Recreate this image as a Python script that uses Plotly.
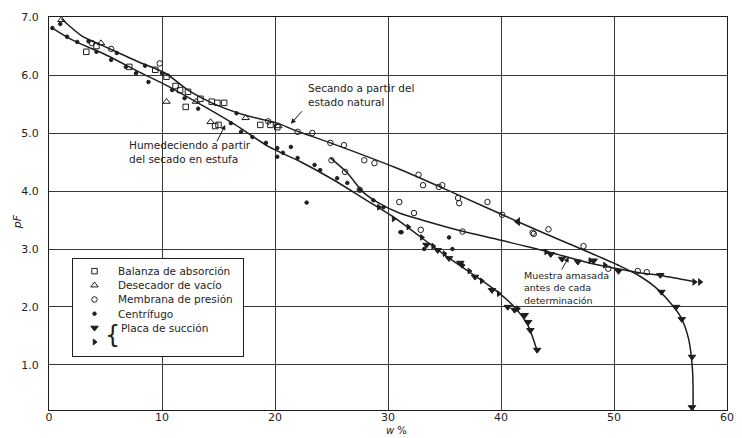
import plotly.graph_objects as go

# ---------------- data ----------------
# Curve: Secando a partir del estado natural (drying from natural state)
dry_w  = [1.1, 3.0, 4.6, 8.0, 10.3, 12.3, 14.4, 17.3, 20.2, 21.7, 24.9, 30.7, 36.0, 41.5, 46.0, 50.5, 52.3, 53.6, 54.9, 55.9, 56.6, 56.95, 57.0]
dry_pf = [6.97, 6.66, 6.52, 6.22, 6.03, 5.74, 5.52, 5.31, 5.17, 5.05, 4.83, 4.40, 3.95, 3.47, 3.09, 2.71, 2.53, 2.35, 2.09, 1.83, 1.45, 0.9, 0.22]

# Curve: Humedeciendo a partir del secado en estufa (wetting from oven dry)
wet_w  = [0.3, 2.1, 5.1, 8.0, 10.3, 13.8, 16.5, 19.4, 22.3, 25.2, 28.1, 30.5, 35.0, 39.5, 41.3, 42.4, 43.2]
wet_pf = [6.81, 6.60, 6.34, 6.05, 5.83, 5.45, 5.14, 4.77, 4.50, 4.19, 3.84, 3.55, 2.90, 2.29, 1.98, 1.68, 1.24]

# Curve: Muestra amasada antes de cada determinacion (remoulded sample)
rem_w  = [24.9, 26.4, 27.8, 29.2, 31.0, 33.0, 36.5, 40.0, 44.2, 48.2, 52.0, 54.5, 57.3]
rem_pf = [4.57, 4.31, 3.98, 3.79, 3.62, 3.50, 3.31, 3.15, 2.95, 2.74, 2.60, 2.53, 2.43]

# Balanza de absorcion
sq_w  = [3.3, 7.1, 9.4, 10.4, 11.2, 11.6, 12.3, 13.4, 12.1, 14.4, 14.9, 15.5, 14.7, 15.0, 18.7, 19.6, 20.2, 4.2]
sq_pf = [6.40, 6.14, 6.09, 5.97, 5.81, 5.74, 5.71, 5.59, 5.45, 5.54, 5.52, 5.52, 5.12, 5.14, 5.14, 5.14, 5.10, 6.50]

# Desecador de vacio
tri_w  = [1.1, 10.4, 13.0, 14.3, 17.4, 20.3, 4.6]
tri_pf = [6.95, 5.54, 5.54, 5.19, 5.26, 5.12, 6.55]

# Membrana de presion
cir_w  = [22.0, 23.3, 24.9, 26.1, 27.9, 28.8, 32.7, 33.1, 34.5, 34.8, 36.2, 36.3, 38.8, 40.1, 42.8, 44.2,
          47.3, 49.5, 52.1, 52.9, 25.0, 26.2, 27.5, 31.0, 32.3, 32.9, 36.6, 42.9, 9.8, 19.4, 5.5, 3.8]
cir_pf = [5.02, 5.00, 4.83, 4.79, 4.53, 4.48, 4.28, 4.10, 4.07, 4.10, 3.88, 3.79, 3.81, 3.59, 3.28, 3.34,
          3.05, 2.66, 2.62, 2.60, 4.53, 4.33, 4.02, 3.81, 3.62, 3.33, 3.30, 3.26, 6.20, 5.20, 6.45, 6.55]

# Centrifugo
cen_w  = [0.3, 1.6, 2.5, 4.2, 5.5, 6.8, 7.7, 8.8, 10.9, 12.0, 13.2, 16.1, 17.0, 18.0, 19.2, 20.2, 20.2, 20.7,
          22.0, 23.5, 24.0, 25.5, 26.4, 27.5, 28.7, 29.6, 31.1, 31.2, 33.2, 35.4, 35.7, 21.4, 22.8, 3.5, 6.0,
          8.5, 10.0, 16.6, 1.0]
cen_pf = [6.81, 6.66, 6.57, 6.40, 6.26, 6.14, 6.03, 5.88, 5.74, 5.60, 5.42, 5.17, 5.02, 4.93, 4.83, 4.74, 4.59, 4.66,
          4.57, 4.45, 4.36, 4.22, 4.14, 4.02, 3.84, 3.72, 3.29, 3.29, 3.00, 3.20, 3.00, 4.76, 3.80, 6.58, 6.38,
          6.16, 6.03, 5.34, 6.88]

# Placa de succion (triangles)
suc_w  = [33.4, 34.4, 35.4, 36.4, 37.7, 39.2, 40.6, 41.2, 42.1, 42.4, 42.6, 43.2, 44.4, 45.4, 46.8, 48.2,
          50.4, 54.1, 54.2, 55.5, 56.0, 56.9, 56.9]
suc_pf = [3.07, 2.98, 2.84, 2.76, 2.52, 2.29, 2.00, 1.95, 1.86, 1.74, 1.60, 1.26, 2.91, 2.83, 2.78, 2.80,
          2.62, 2.55, 2.26, 2.00, 1.79, 1.14, 0.27]

# Placa de succion (flags)
flg_w  = [29.2, 30.5, 31.8, 33.0, 34.0, 35.0, 36.6, 37.2, 38.3, 39.8, 41.5, 44.0, 47.9, 49.2]
flg_pf = [3.72, 3.52, 3.38, 3.20, 3.05, 2.92, 2.72, 2.62, 2.45, 2.23, 1.97, 2.95, 2.80, 2.72]

# Direction arrow heads drawn on the curves
arrow_left_w  = [41.5]
arrow_left_pf = [3.47]
arrow_right_w  = [57.1, 57.6]
arrow_right_pf = [2.43, 2.43]

# axis ticks
x_ticks = [0, 10, 20, 30, 40, 50, 60]
x_tick_text = ["0", "10", "20", "30", "40", "50", "60"]
y_ticks = [1, 2, 3, 4, 5, 6, 7]
y_tick_text = ["1.0", "2.0", "3.0", "4.0", "5.0", "6.0", "7.0"]

# legend
legend_labels = ["Balanza de absorción", "Desecador de vacío", "Membrana de presión",
                 "Centrífugo", "Placa de succión", ""]
legend_rows = [0, 1, 2, 3, 4, 5]

# curve labels: (text, w, pF) and leader arrows (tip w, tip pF, tail w, tail pF)
label_text = ["Secando a partir del<br>estado natural",
              "Humedeciendo a partir<br>del secado en estufa",
              "Muestra amasada<br>antes de cada<br>determinación"]
label_w  = [22.7, 6.9, 41.9]
label_pf = [5.66, 4.67, 2.32]
lead_tip_w   = [21.4, 15.6, 46.0]
lead_tip_pf  = [5.16, 5.14, 2.86]
lead_tail_w  = [22.5, 14.8, 45.3]
lead_tail_pf = [5.40, 4.83, 2.62]

# ---------------- figure ----------------
INK = "#1e1e1e"
FONT = "DejaVu Sans"
fig = go.Figure()

line_style = dict(color=INK, width=1.5, shape="spline", smoothing=0.8)
for cw, cp in [(dry_w, dry_pf), (wet_w, wet_pf), (rem_w, rem_pf)]:
    fig.add_trace(go.Scatter(x=cw, y=cp, mode="lines", line=line_style,
                             hoverinfo="skip", showlegend=False))

series = [
    (sq_w, sq_pf, "square-open", 5.5),
    (tri_w, tri_pf, "triangle-up-open", 6.5),
    (cir_w, cir_pf, "circle-open", 5.5),
    (cen_w, cen_pf, "circle", 3.5),
    (suc_w, suc_pf, "triangle-down", 6.5),
    (flg_w, flg_pf, "triangle-right", 5),
]
for sw, sp, sym, sz in series:
    fig.add_trace(go.Scatter(x=sw, y=sp, mode="markers",
                             marker=dict(symbol=sym, size=sz, color=INK, line=dict(color=INK, width=1)),
                             showlegend=False, cliponaxis=False))

fig.add_trace(go.Scatter(x=arrow_left_w, y=arrow_left_pf, mode="markers",
                         marker=dict(symbol="triangle-left", size=8, color=INK), showlegend=False))
fig.add_trace(go.Scatter(x=arrow_right_w, y=arrow_right_pf, mode="markers",
                         marker=dict(symbol="triangle-right", size=7, color=INK), showlegend=False))

# legend symbols in a small inset subplot
for i, (sw, sp, sym, sz) in enumerate(series):
    fig.add_trace(go.Scatter(x=[0.128], y=[legend_rows[i]], mode="markers", xaxis="x2", yaxis="y2",
                             marker=dict(symbol=sym, size=sz, color=INK, line=dict(color=INK, width=1)),
                             showlegend=False, hoverinfo="skip"))

annotations = []
for i, t in enumerate(legend_labels):
    if t:
        annotations.append(dict(x=0.27 if i == 4 else 0.256, y=legend_rows[i], xref="x2", yref="y2",
                                text=t, showarrow=False, xanchor="left", yanchor="middle",
                                font=dict(family=FONT, size=10.5, color=INK)))
annotations.append(dict(x=0.232, y=(legend_rows[4] + legend_rows[5]) / 2, xref="x2", yref="y2",
                        text="{", showarrow=False, xanchor="center", yanchor="middle",
                        font=dict(family=FONT, size=24, color=INK)))

label_sizes = [10.5, 10.5, 9.5]
for t, lw, lp, fs in zip(label_text, label_w, label_pf, label_sizes):
    annotations.append(dict(x=lw, y=lp, xref="x", yref="y", text=t, showarrow=False,
                            xanchor="left", yanchor="middle", align="left",
                            font=dict(family=FONT, size=fs, color=INK)))
for tw, tp, aw, ap in zip(lead_tip_w, lead_tip_pf, lead_tail_w, lead_tail_pf):
    annotations.append(dict(x=tw, y=tp, ax=aw, ay=ap, xref="x", yref="y", axref="x", ayref="y",
                            text="", showarrow=True, arrowhead=2, arrowsize=1, arrowwidth=1,
                            arrowcolor=INK))

annotations.append(dict(x=-0.047, y=0.478, xref="paper", yref="paper", text="<i>pF</i>",
                        textangle=-90, showarrow=False, xanchor="center", yanchor="middle",
                        font=dict(family=FONT, size=11, color=INK)))
annotations.append(dict(x=0.513, y=-0.071, xref="paper", yref="paper", text="<i>w</i> %",
                        showarrow=False, xanchor="center", yanchor="bottom",
                        font=dict(family=FONT, size=10, color=INK)))

axis_common = dict(showline=True, mirror=True, linecolor=INK, linewidth=1.2,
                   showgrid=True, gridcolor="#3a3a3a", gridwidth=1, zeroline=False,
                   ticks="", tickfont=dict(family=FONT, size=11, color=INK))

fig.update_layout(
    width=742, height=438,
    margin=dict(l=49, r=8, t=17, b=28),
    paper_bgcolor="white", plot_bgcolor="white",
    showlegend=False,
    xaxis=dict(range=[0, 60], tickvals=x_ticks, ticktext=x_tick_text, domain=[0, 1],
               ticklabelstandoff=-3, **axis_common),
    yaxis=dict(range=[0.224, 7.0], tickvals=y_ticks, ticktext=y_tick_text, domain=[0, 1],
               ticklabelstandoff=7, **axis_common),
    xaxis2=dict(domain=[0.035, 0.286], range=[0, 1], anchor="y2", showgrid=False, zeroline=False,
                showticklabels=False, showline=True, mirror=True, linecolor=INK, linewidth=1.2, ticks=""),
    yaxis2=dict(domain=[0.137, 0.384], range=[6.0, -0.85], anchor="x2", showgrid=False, zeroline=False,
                showticklabels=False, showline=True, mirror=True, linecolor=INK, linewidth=1.2, ticks=""),
    annotations=annotations,
)

fig.write_html("out.html")
